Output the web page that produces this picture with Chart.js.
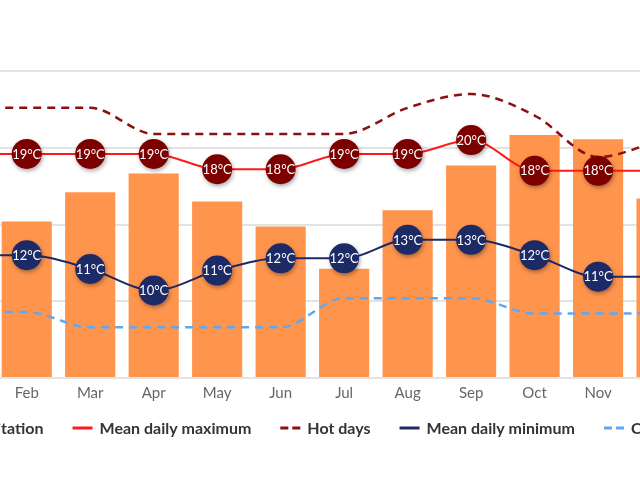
<!DOCTYPE html>
<html>
<head>
<meta charset="utf-8">
<script src="https://cdn.jsdelivr.net/npm/chart.js@4.4.1/dist/chart.umd.min.js"></script>
<style>
  html, body { margin: 0; padding: 0; background: #fff; overflow: hidden; }
  /* the chart is wider than the window: Jan and Dec fall off the edges */
  #wrap { position: absolute; left: -150px; top: 0; width: 940px; height: 480px; }
</style>
</head>
<body>
<div id="wrap"><canvas id="climateChart"></canvas></div>
<script>
const months = ["Jan", "Feb", "Mar", "Apr", "May", "Jun", "Jul", "Aug", "Sep", "Oct", "Nov", "Dec"];
const precipitation = [38, 40.8, 48.4, 53.3, 46.0, 39.5, 28.5, 43.7, 55.4, 63.3, 62.2, 46.8]; // mm
const meanMax = [18.6, 18.6, 18.6, 18.6, 17.6, 17.6, 18.6, 18.6, 19.5, 17.5, 17.5, 17.5];
const hotDays = [21.6, 21.6, 21.6, 19.9, 19.9, 19.9, 19.9, 21.6, 22.5, 21.1, 18.4, 19.5];
const meanMin = [12.0, 12.0, 11.1, 9.7, 11.0, 11.8, 11.8, 13.0, 13.0, 12.0, 10.6, 10.6];
const coldNights = [8.3, 8.3, 7.3, 7.3, 7.3, 7.3, 9.2, 9.2, 9.2, 8.2, 8.2, 8.2];

// round bubbles with the °C value on the max / min lines
const tempBubbles = {
  id: "tempBubbles",
  afterDatasetsDraw(chart) {
    const ctx = chart.ctx;
    chart.data.datasets.forEach((ds, i) => {
      if (!ds.bubbleColor) return;
      const meta = chart.getDatasetMeta(i);
      meta.data.forEach((pt, j) => {
        ctx.save();
        ctx.shadowColor = "rgba(0, 0, 0, 0.35)";
        ctx.shadowBlur = 4;
        ctx.shadowOffsetX = 1;
        ctx.shadowOffsetY = 2;
        ctx.beginPath();
        ctx.arc(pt.x, pt.y, 15, 0, Math.PI * 2);
        ctx.fillStyle = ds.bubbleColor;
        ctx.fill();
        ctx.restore();
        ctx.save();
        ctx.fillStyle = "#fff";
        ctx.font = "13px Lato";
        ctx.textAlign = "center";
        ctx.textBaseline = "middle";
        ctx.fillText(Math.round(ds.data[j]) + "°C", pt.x, pt.y + 0.5);
        ctx.restore();
      });
    });
  },
};

// legend in one row under the axis (wide gaps between items, little space above)
const lineLegend = {
  id: "lineLegend",
  afterDraw(chart) {
    const ctx = chart.ctx;
    const y = chart.chartArea.bottom + 50;
    ctx.save();
    ctx.font = "bold 16px Lato";
    ctx.textBaseline = "middle";
    const items = chart.data.datasets.map((ds) => ({
      text: ds.label,
      color: ds.type === "bar" ? ds.backgroundColor : ds.borderColor,
      dash: ds.borderDash || [],
      w: 20 + 7 + ctx.measureText(ds.label).width,
    }));
    const gap = 29;
    const total = items.reduce((s, it) => s + it.w, 0) + gap * (items.length - 1);
    let x = chart.width / 2 - total / 2 - 2;
    items.forEach((it) => {
      ctx.strokeStyle = it.color;
      ctx.lineWidth = 3;
      ctx.setLineDash(it.dash.length ? [8, 4] : []);
      ctx.beginPath();
      ctx.moveTo(x, y);
      ctx.lineTo(x + 20, y);
      ctx.stroke();
      ctx.fillStyle = "#333";
      ctx.fillText(it.text, x + 27, y + 1);
      x += it.w + gap;
    });
    ctx.restore();
  },
};

const lineDefaults = {
  type: "line",
  yAxisID: "yTemp",
  pointRadius: 0,
  borderWidth: 2,
  cubicInterpolationMode: "monotone",
  fill: false,
};

new Chart(document.getElementById("climateChart"), {
  data: {
    labels: months,
    datasets: [
      {
        type: "bar",
        label: "Precipitation",
        data: precipitation,
        yAxisID: "yPrecip",
        backgroundColor: "#ff944d",
        borderWidth: 0,
        categoryPercentage: 1,
        barPercentage: 0.79,
        order: 10,
      },
      { ...lineDefaults, label: "Mean daily maximum", data: meanMax, borderColor: "#ff1a1a", bubbleColor: "#7d0000", order: 2 },
      { ...lineDefaults, label: "Hot days", data: hotDays, borderColor: "#8b1010", borderWidth: 2.5, borderDash: [8, 6], order: 3 },
      { ...lineDefaults, label: "Mean daily minimum", data: meanMin, borderColor: "#1c2a66", bubbleColor: "#1c2a66", order: 1 },
      { ...lineDefaults, label: "Cold nights", data: coldNights, borderColor: "#5ea8f2", borderWidth: 2.5, borderDash: [8, 6], order: 4 },
    ],
  },
  options: {
    responsive: true,
    maintainAspectRatio: false,
    animation: false,
    layout: { padding: { top: 71, bottom: 72 } },
    scales: {
      x: {
        grid: { display: false, drawTicks: false },
        border: { display: false },
        ticks: { color: "#666", font: { family: "Lato", size: 15 }, padding: 6 },
      },
      yTemp: {
        position: "left",
        min: 4,
        max: 24,
        grid: { display: false },
        border: { display: false },
        ticks: { display: false },
        afterFit: (axis) => { axis.width = 81.5; },
      },
      yPrecip: {
        position: "right",
        min: 0,
        max: 80,
        ticks: { display: false, stepSize: 20 },
        grid: { color: "#e3e3e3", lineWidth: 2, drawTicks: false },
        border: { display: false },
        afterFit: (axis) => { axis.width = 96.7; },
      },
    },
    plugins: {
      tooltip: { enabled: false },
      legend: { display: false },
    },
  },
  plugins: [tempBubbles, lineLegend],
});
</script>
</body>
</html>
